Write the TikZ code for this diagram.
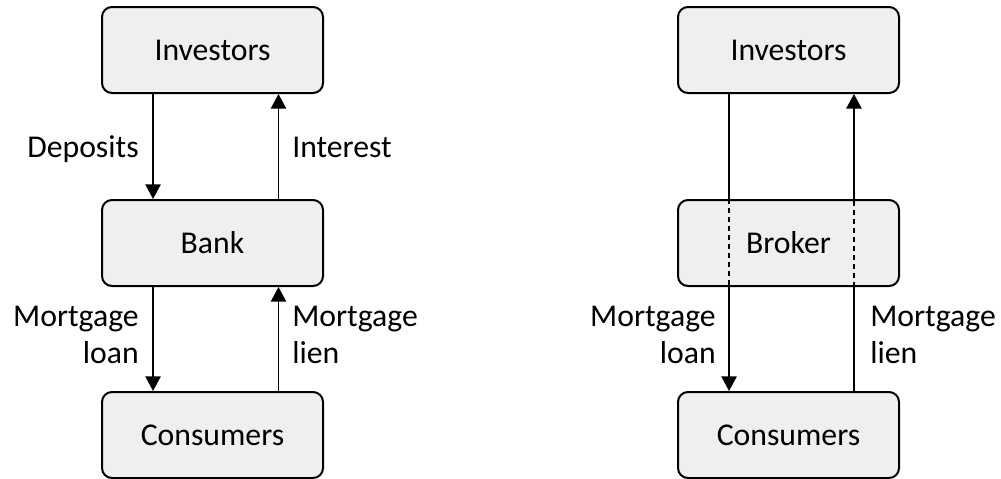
\documentclass[tikz,border=0pt]{standalone}
\usepackage{fontspec}
\setmainfont{Carlito}
\usetikzlibrary{arrows.meta}
\definecolor{boxfill}{HTML}{EFEFEF}
\begin{document}
\begin{tikzpicture}[x=0.75pt,y=-0.75pt,
  every node/.style={font=\fontsize{23.8}{27.5}\selectfont},
  entity/.style={draw=black,line width=1.5pt,fill=boxfill,rounded corners=7.5pt,
    minimum width=165.75pt,minimum height=64.5pt,inner sep=0pt},
  flow/.style={line width=1.2pt},
  tip/.style={-{Triangle[width=11.5pt,length=11pt]}},
  dashedflow/.style={line width=1.2pt,dash pattern=on 3.75pt off 3pt},
  lbl/.style={inner sep=0pt}]
\useasboundingbox (0,0) rectangle (1001,479);
% left column
\node[entity] (inv1) at (212.5,50) {Investors};
\node[entity] (bank) at (212.5,243) {Bank};
\node[entity] (cons1) at (212.5,435) {Consumers};
\draw[flow,tip] ([xshift=-44.6pt]inv1.south) -- ([xshift=-44.6pt]bank.north);
\draw[flow,tip] ([xshift=49.5pt]bank.north) -- ([xshift=49.5pt]inv1.south);
\draw[flow,tip] ([xshift=-44.6pt]bank.south) -- ([xshift=-44.6pt]cons1.north);
\draw[flow,tip] ([xshift=49.5pt]cons1.north) -- ([xshift=49.5pt]bank.south);
\node[lbl,anchor=base east] (dep) at (139,157) {Deposits};
\node[lbl,anchor=base west] (int) at (292,157) {Interest};
\node[lbl,anchor=base east,align=right] (ml1) at (139,363) {Mortgage\\loan};
\node[lbl,anchor=base west,align=left] (mli1) at (292,363) {Mortgage\\lien};
% right column
\node[entity] (inv2) at (788.5,50) {Investors};
\node[entity] (brk) at (788.5,243) {Broker};
\node[entity] (cons2) at (788.5,435) {Consumers};
\draw[flow] ([xshift=-44.6pt]inv2.south) -- ([xshift=-44.6pt]brk.north);
\draw[dashedflow] ([xshift=-44.6pt]brk.north) -- ([xshift=-44.6pt]brk.south);
\draw[flow,tip] ([xshift=-44.6pt]brk.south) -- ([xshift=-44.6pt]cons2.north);
\draw[flow] ([xshift=49.1pt]cons2.north) -- ([xshift=49.1pt]brk.south);
\draw[dashedflow] ([xshift=49.1pt]brk.south) -- ([xshift=49.1pt]brk.north);
\draw[flow,tip] ([xshift=49.1pt]brk.north) -- ([xshift=49.1pt]inv2.south);
\node[lbl,anchor=base east,align=right] (ml2) at (716,363) {Mortgage\\loan};
\node[lbl,anchor=base west,align=left] (mli2) at (870,363) {Mortgage\\lien};
\end{tikzpicture}
\end{document}
